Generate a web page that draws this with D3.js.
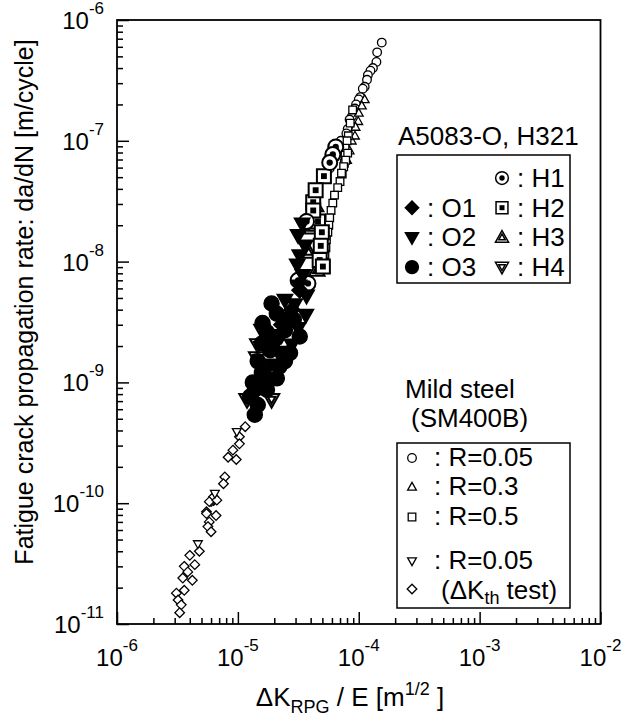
<!DOCTYPE html>
<html>
<head>
<meta charset="utf-8">
<script src="https://cdn.jsdelivr.net/npm/d3@7"></script>
<style>
  body { margin: 0; background: #fff; }
  text { font-family: "Liberation Sans", Arial, sans-serif; fill: #000; }
</style>
</head>
<body>
<div id="chart"></div>
<script>
// axis decades (exponents)
const xDecades = [-6, -5, -4, -3, -2];
const yDecades = [-11, -10, -9, -8, -7, -6];

// Mild steel (SM400B), [dK/E, da/dN]
const steelR005 = [[1.55e-4,6.5e-7],[1.42e-4,5.4e-7],[1.4e-4,4.5e-7],[1.31e-4,4.0e-7],[1.25e-4,3.8e-7],
  [1.19e-4,3.5e-7],[1.17e-4,3.2e-7],[1.12e-4,2.8e-7],[1.08e-4,2.7e-7],[1.03e-4,2.3e-7],[1.0e-4,2.2e-7],
  [9.5e-5,2.0e-7],[9.3e-5,1.85e-7],[8.8e-5,1.6e-7],[8.4e-5,1.5e-7],[8.1e-5,1.25e-7],[7.9e-5,1.15e-7],
  [7.1e-5,1.0e-7],[6.7e-5,8.7e-8],[6.3e-5,7.2e-8],[5.75e-5,5.9e-8],[3.7e-5,2.3e-8],[4.1e-5,2.65e-8]];
const steelR03 = [[1.12e-4,2.2e-7],[1.06e-4,1.95e-7],[1.0e-4,1.7e-7],[9.9e-5,1.45e-7],[9.4e-5,1.3e-7],
  [9.3e-5,1.1e-7],[8.75e-5,1.0e-7],[8.4e-5,8.3e-8],[8.0e-5,6.9e-8]];
const steelR05 = [[8.9e-5,1.8e-7],[8.5e-5,1.4e-7],[8.2e-5,1.1e-7],[8.0e-5,1.0e-7],[7.7e-5,8.7e-8],
  [7.7e-5,7.6e-8],[7.6e-5,6.5e-8],[7.3e-5,5.3e-8],[8.1e-5,7.9e-8],[7.8e-5,6.9e-8],[7.5e-5,6.1e-8],
  [7.2e-5,5.4e-8],[7.0e-5,4.6e-8],[6.7e-5,4.1e-8],[6.3e-5,3.55e-8],[6.1e-5,3.05e-8],[5.9e-5,2.65e-8],
  [5.75e-5,2.3e-8],[5.65e-5,2.0e-8],[5.55e-5,1.75e-8],[5.4e-5,1.52e-8],[5.35e-5,1.3e-8],
  [5.25e-5,1.15e-8],[5.25e-5,9.8e-9],[5.1e-5,8.6e-9]];
const steelThTri = [[4.67e-6,4.6e-11],[6.45e-6,1.2e-10],[9.8e-6,3.9e-10]];
const steelThDia = [[1.15e-5,4.3e-10],[1.03e-5,3.55e-10],[1.03e-5,3.1e-10],[9.1e-6,2.75e-10],[8.3e-6,2.4e-10],
  [9.7e-6,2.3e-10],[7.8e-6,1.65e-10],[7.6e-6,1.45e-10],[6.3e-6,1.05e-10],[6.0e-6,1.03e-10],[5.5e-6,8.5e-11],
  [6.6e-6,7.9e-11],[6.3e-6,1.13e-10],[5.8e-6,1.03e-10],[6.7e-6,1.06e-10],[5.5e-6,8.2e-11],[5.8e-6,7.0e-11],
  [5.65e-6,6.4e-11],[6.0e-6,5.8e-11],[4.8e-6,4.0e-11],[4.0e-6,3.7e-11],[3.6e-6,3.0e-11],[4.4e-6,3.1e-11],
  [3.85e-6,2.7e-11],[3.5e-6,2.4e-11],[4.2e-6,2.3e-11],[3.6e-6,1.9e-11],[3.1e-6,1.8e-11],[3.2e-6,1.58e-11],
  [3.4e-6,1.44e-11],[3.3e-6,1.24e-11]];

// A5083-O and H321
const alO1 = [[2.3e-5,3.0e-9],[2.8e-5,4.0e-9],[1.77e-5,2.0e-9],[3.25e-5,5.8e-9]];
const alO2 = [[3.4e-5,2.05e-8],[3.15e-5,1.65e-8],[3.6e-5,1.35e-8],[3.25e-5,1.12e-8],[3.1e-5,9.4e-9],
  [3.45e-5,7.7e-9],[3.2e-5,6.3e-9],[3.7e-5,5.2e-9],[2.95e-5,4.4e-9],[3.65e-5,3.6e-9],[2.6e-5,3.4e-9],
  [3.15e-5,2.8e-9],[2.3e-5,2.45e-9],[2.8e-5,2.05e-9],[2.15e-5,1.78e-9],[1.85e-5,1.4e-9],[2.45e-5,4.8e-9]];
const alO3 = [[1.9e-5,4.5e-9],[2.1e-5,3.7e-9],[1.6e-5,3.1e-9],[1.74e-5,2.6e-9],[1.58e-5,2.1e-9],
  [1.33e-5,1.0e-9],[1.38e-5,8.7e-10],[1.38e-5,5.4e-10],[1.74e-5,8.7e-10],[2.1e-5,1.08e-9],[2.2e-5,1.35e-9],
  [2.7e-5,1.75e-9],[3.25e-5,2.4e-9],[1.85e-5,1.85e-9],[1.46e-5,1.5e-9],[1.58e-5,1.2e-9],[2.45e-5,2.7e-9],
  [2.0e-5,2.25e-9],[2.9e-5,3.3e-9],[1.26e-5,7.6e-10],[1.46e-5,6.5e-10],[1.77e-5,1.05e-9],[2.45e-5,1.5e-9]];
const alH1 = [[6.45e-5,8.9e-8],[6.1e-5,7.7e-8],[5.75e-5,6.6e-8],[3.7e-5,2.15e-8],[3.15e-5,7.0e-9],[3.8e-5,6.6e-9]];
const alH2 = [[5.15e-5,5.1e-8],[4.2e-5,3.1e-8],[4.6e-5,2.15e-8],[4.75e-5,1.03e-8],[5.05e-5,9.1e-9],
  [4.4e-5,3.9e-8],[4.95e-5,1.75e-8],[4.85e-5,1.35e-8],[4.2e-5,2.65e-8]];
const alH3 = [[4.4e-5,2.9e-8],[4.1e-5,1.9e-8],[3.85e-5,1.2e-8],[4.5e-5,8.5e-9]];
const alH4 = [[1.46e-5,2.05e-9],[1.43e-5,1.6e-9],[1.19e-5,7.2e-10],[1.9e-5,7.2e-10],[1.58e-5,2.7e-9]];

const margin = {top: 20, right: 23.5, bottom: 93, left: 117},
    width = 624 - margin.left - margin.right,
    height = 717 - margin.top - margin.bottom;

const svg = d3.select("#chart").append("svg")
    .attr("width", 624).attr("height", 717);
const g = svg.append("g")
    .attr("transform", "translate(" + margin.left + "," + margin.top + ")");

const x = d3.scaleLog().domain([1e-6, 1e-2]).range([0, width]);
const y = d3.scaleLog().domain([1e-11, 1e-6]).range([height, 0]);

// minor tick values
function minors(decs) {
  const out = [];
  decs.slice(0, -1).forEach(e => { for (let m = 2; m <= 9; m++) out.push(m * Math.pow(10, e)); });
  return out;
}
const xMajor = xDecades.map(e => Math.pow(10, e)), yMajor = yDecades.map(e => Math.pow(10, e));

function styleAxis(sel) {
  sel.select(".domain").remove();
  sel.selectAll("line").attr("stroke", "#000").attr("stroke-width", 1.5);
}
g.append("g").attr("transform", "translate(0," + height + ")")
  .call(d3.axisBottom(x).tickValues(xMajor).tickSize(-12).tickFormat("")).call(styleAxis);
g.append("g").attr("transform", "translate(0," + height + ")")
  .call(d3.axisBottom(x).tickValues(minors(xDecades)).tickSize(-6).tickFormat("")).call(styleAxis);
g.append("g").call(d3.axisLeft(y).tickValues(yMajor).tickSize(-12).tickFormat("")).call(styleAxis);
g.append("g").call(d3.axisLeft(y).tickValues(minors(yDecades)).tickSize(-6).tickFormat("")).call(styleAxis);

g.append("rect").attr("width", width).attr("height", height)
  .attr("fill", "none").attr("stroke", "#000").attr("stroke-width", 1.8);

// tick labels 10^n
g.selectAll(".xl").data(xDecades).enter().append("text")
  .attr("x", d => x(Math.pow(10, d))).attr("y", height + 42)
  .attr("text-anchor", "middle").style("font-size", "24px")
  .each(function(d) {
    const t = d3.select(this);
    t.append("tspan").text("10");
    t.append("tspan").attr("dy", -15).style("font-size", "17px").text(d);
  });
g.selectAll(".yl").data(yDecades).enter().append("text")
  .attr("x", -13).attr("y", d => y(Math.pow(10, d)) + 9)
  .attr("text-anchor", "end").style("font-size", "24px")
  .each(function(d) {
    const t = d3.select(this);
    t.append("tspan").text("10");
    t.append("tspan").attr("dy", -15).style("font-size", "17px").text(d);
  });

// axis titles
const xt = svg.append("text").attr("x", 350).attr("y", 706).attr("text-anchor", "middle").style("font-size", "26px");
xt.append("tspan").text("\u0394K");
xt.append("tspan").attr("dy", 7).style("font-size", "18px").text("RPG");
xt.append("tspan").attr("dy", -7).text(" / E [m");
xt.append("tspan").attr("dy", -11).style("font-size", "18px").text("1/2");
xt.append("tspan").attr("dy", 11).text(" ]");

svg.append("text").attr("transform", "translate(33,302) rotate(-90)")
  .attr("text-anchor", "middle").style("font-size", "25px")
  .text("Fatigue crack propagation rate: da/dN  [m/cycle]");

// marker shapes
function shape(kind, h) {
  switch (kind) {
    case "circle": return "M" + h + ",0A" + h + "," + h + " 0 1,1 " + (-h) + ",0A" + h + "," + h + " 0 1,1 " + h + ",0Z";
    case "square": return "M" + (-h) + "," + (-h) + "H" + h + "V" + h + "H" + (-h) + "Z";
    case "up": return "M0," + (-h * 1.15) + "L" + (h * 1.1) + "," + (h * 0.8) + "L" + (-h * 1.1) + "," + (h * 0.8) + "Z";
    case "down": return "M0," + (h * 1.15) + "L" + (h * 1.1) + "," + (-h * 0.8) + "L" + (-h * 1.1) + "," + (-h * 0.8) + "Z";
    case "diamond": return "M0," + (-h * 1.2) + "L" + (h * 1.2) + ",0L0," + (h * 1.2) + "L" + (-h * 1.2) + ",0Z";
  }
}
function marker(sel, s) {
  sel.append("path").attr("d", shape(s.kind, s.h))
    .attr("fill", s.fill ? "#000" : "#fff").attr("stroke", "#000").attr("stroke-width", s.sw);
  if (s.inner === "dot")
    sel.append("path").attr("d", shape(s.kind, s.h * 0.42)).attr("fill", "#000");
  if (s.inner === "ring")
    sel.append("path").attr("d", shape(s.kind, s.h * 0.5)).attr("fill", "#fff")
      .attr("stroke", "#000").attr("stroke-width", s.sw);
}

const S = {
  r005: {kind: "circle", h: 4.3, sw: 1.3},
  r03: {kind: "up", h: 4, sw: 1.3},
  r05: {kind: "square", h: 3.8, sw: 1.3},
  thTri: {kind: "down", h: 4, sw: 1.3},
  thDia: {kind: "diamond", h: 4, sw: 1.3},
  O1: {kind: "diamond", h: 6.5, sw: 1.5, fill: true},
  O2: {kind: "down", h: 7, sw: 1.5, fill: true},
  O3: {kind: "circle", h: 7.5, sw: 1.5, fill: true},
  H1: {kind: "circle", h: 7.5, sw: 2, inner: "dot"},
  H2: {kind: "square", h: 7, sw: 2, inner: "dot"},
  H3: {kind: "up", h: 7, sw: 2, inner: "ring"},
  H4: {kind: "down", h: 7, sw: 2, inner: "ring"}
};

const series = [
  [steelThDia, S.thDia], [steelThTri, S.thTri], [steelR005, S.r005], [steelR03, S.r03], [steelR05, S.r05],
  [alH4, S.H4], [alH3, S.H3], [alH2, S.H2], [alH1, S.H1],
  [alO3, S.O3], [alO2, S.O2], [alO1, S.O1]
];
series.forEach(([data, s]) => {
  g.selectAll(null).data(data).enter().append("g")
    .attr("transform", d => "translate(" + x(d[0]) + "," + y(d[1]) + ")")
    .each(function() { marker(d3.select(this), s); });
});

// legend: aluminium
svg.append("text").attr("x", 398).attr("y", 145).style("font-size", "26px").text("A5083-O, H321");
svg.append("rect").attr("x", 397).attr("y", 155).attr("width", 173).attr("height", 128)
  .attr("fill", "#fff").attr("stroke", "#000").attr("stroke-width", 1.5);
const legAl = [
  {row: 0, col: 1, s: S.H1, label: ": H1"},
  {row: 1, col: 0, s: S.O1, label: ": O1"}, {row: 1, col: 1, s: S.H2, label: ": H2"},
  {row: 2, col: 0, s: S.O2, label: ": O2"}, {row: 2, col: 1, s: S.H3, label: ": H3"},
  {row: 3, col: 0, s: S.O3, label: ": O3"}, {row: 3, col: 1, s: S.H4, label: ": H4"}
];
legAl.forEach(d => {
  const cy = 178 + d.row * 29.7, cx = d.col ? 502 : 412;
  const m = svg.append("g").attr("transform", "translate(" + cx + "," + cy + ")");
  marker(m, Object.assign({}, d.s, {h: d.s.h * 0.85, sw: 1.5}));
  svg.append("text").attr("x", cx + 15).attr("y", cy + 9).style("font-size", "26px").text(d.label);
});

// legend: mild steel
svg.append("text").attr("x", 405).attr("y", 398).style("font-size", "26px").text("Mild steel");
svg.append("text").attr("x", 411).attr("y", 427).style("font-size", "26px").text("(SM400B)");
svg.append("rect").attr("x", 397).attr("y", 443).attr("width", 173).attr("height", 165)
  .attr("fill", "#fff").attr("stroke", "#000").attr("stroke-width", 1.5);
const legSt = [
  {cy: 458, s: S.r005, label: ": R=0.05"},
  {cy: 487, s: S.r03, label: ": R=0.3"},
  {cy: 517, s: S.r05, label: ": R=0.5"},
  {cy: 561, s: S.thTri, label: ": R=0.05"},
  {cy: 589, s: S.thDia, label: null}
];
legSt.forEach(d => {
  const m = svg.append("g").attr("transform", "translate(412," + d.cy + ")");
  marker(m, d.s);
  if (d.label) svg.append("text").attr("x", 434).attr("y", d.cy + 8).style("font-size", "26px").text(d.label);
});
const th = svg.append("text").attr("x", 441).attr("y", 599).style("font-size", "26px");
th.append("tspan").text("(\u0394K");
th.append("tspan").attr("dy", 5).style("font-size", "18px").text("th");
th.append("tspan").attr("dy", -5).text(" test)");
</script>
</body>
</html>
